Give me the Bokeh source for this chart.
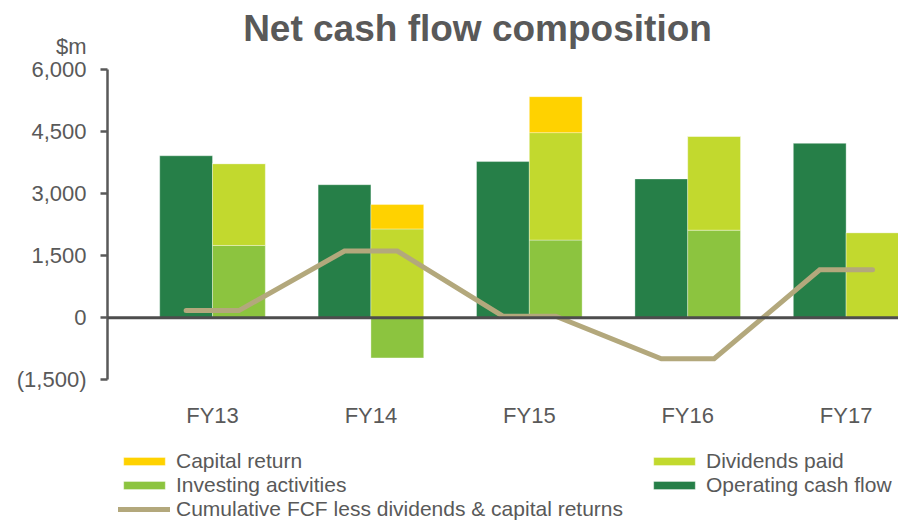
from bokeh.plotting import figure
from bokeh.models import (Range1d, FixedTicker, Span, Legend, LegendItem, Label,
                          LinearAxis)
from bokeh.core.properties import value
from bokeh.embed import file_html
from bokeh.resources import INLINE

# ---- data ----
years = ["FY13", "FY14", "FY15", "FY16", "FY17"]
operating_cash_flow = [3920, 3220, 3780, 3360, 4220]
investing_activities = [1750, -970, 1880, 2120, 0]
dividends_paid = [1980, 2150, 2600, 2270, 2060]
capital_return = [0, 590, 870, 0, 0]
cumulative_fcf = [175, 1615, 40, -990, 1160]

y_tick_values = [-1500, 0, 1500, 3000, 4500, 6000]
y_tick_labels = ["(1,500)", "0", "1,500", "3,000", "4,500", "6,000"]
unit_label = "$m"

# ---- styling ----
C_OP = "#267F48"
C_INV = "#8CC43F"
C_DIV = "#C2D92E"
C_CAP = "#FFD200"
C_LINE = "#B3A87C"
C_TEXT = "#595959"
FONT = "Liberation Sans"

W, H = 898, 521
LEFT = 107
# vertical mapping: 6000 at y=69.3px, -1500 at y=379.3px
px_per_unit = 310.0 / 7500.0
y_top = 6000 + 69.3 / px_per_unit
y_bot = -1500 - (H - 379.3) / px_per_unit
label_y = 6000 - (415 - 69.3) / px_per_unit
unit_y = 6000 + (69.3 - 46) / px_per_unit

n = len(years)
idx = list(range(n))
off = 1.0 / 6.0
bw = 1.0 / 3.0

x_op = [i - off for i in idx]
x_2 = [i + off for i in idx]

inv_bottom = [0 for _ in idx]
inv_top = investing_activities
div_bottom = [max(v, 0) for v in investing_activities]
div_top = [b + d for b, d in zip(div_bottom, dividends_paid)]
cap_bottom = div_top
cap_top = [b + c for b, c in zip(cap_bottom, capital_return)]

line_x = []
line_y = []
for i, v in zip(idx, cumulative_fcf):
    line_x += [i - off, i + off]
    line_y += [v, v]

p = figure(width=W, height=H, output_backend="svg", toolbar_location=None,
           x_range=Range1d(-0.663, -0.663 + (W - LEFT) / 158.4),
           y_range=Range1d(y_bot, y_top),
           min_border_left=LEFT, min_border_right=0, min_border_top=0,
           min_border_bottom=0, background_fill_color="white",
           border_fill_color="white", outline_line_color=None,
           x_axis_location=None, y_axis_location=None)
p.grid.visible = False

bar_line = dict(line_color="white", line_alpha=0.35, line_width=1)
r_op = p.vbar(x=x_op, width=bw, bottom=0, top=operating_cash_flow,
              fill_color=C_OP, **bar_line)
r_inv = p.vbar(x=x_2, width=bw, bottom=inv_bottom, top=inv_top,
               fill_color=C_INV, **bar_line)
r_div = p.vbar(x=x_2, width=bw, bottom=div_bottom, top=div_top,
               fill_color=C_DIV, **bar_line)
r_cap = p.vbar(x=x_2, width=bw, bottom=cap_bottom, top=cap_top,
               fill_color=C_CAP, **bar_line)

p.add_layout(Span(location=0, dimension="width", line_color="#4D4D4D",
                  line_width=3))

r_line = p.line(line_x, line_y, line_color=C_LINE, line_width=5,
                line_cap="round", line_join="miter")

# category labels
p.text(x=idx, y=[label_y] * n, text=years, text_font=value(FONT),
       text_font_size="22px", text_color=C_TEXT, text_align="center",
       text_baseline="middle")

# inner y axis: line and ticks only
ya = LinearAxis(bounds=(-1500, 6000), ticker=FixedTicker(ticks=y_tick_values),
                major_label_overrides={v: "" for v in y_tick_values},
                major_label_standoff=0,
                axis_line_color=C_TEXT, axis_line_width=2.5,
                major_tick_line_color=C_TEXT, major_tick_line_width=2.5,
                major_tick_out=7, major_tick_in=0,
                minor_tick_line_color=None)
p.add_layout(ya, "left")

# outer y axis: tick labels and unit label
lab_ticks = y_tick_values + [unit_y]
lab_text = y_tick_labels + [unit_label]
yb = LinearAxis(ticker=FixedTicker(ticks=lab_ticks),
                major_label_overrides={v: s for v, s in zip(lab_ticks, lab_text)},
                axis_line_color=None, major_tick_line_color=None,
                minor_tick_line_color=None, major_tick_out=0, major_tick_in=0,
                major_label_text_font=FONT, major_label_text_font_size="22px",
                major_label_text_color=C_TEXT, major_label_standoff=14)
p.add_layout(yb, "left")

# title
p.add_layout(Label(x=477 - LEFT, y=H - 28, x_units="screen", y_units="screen",
                   text="Net cash flow composition", text_font=FONT,
                   text_font_size="37px", text_font_style="bold",
                   text_color=C_TEXT, text_align="center",
                   text_baseline="middle"))

leg_common = dict(orientation="vertical", padding=0, margin=0, spacing=0,
                  border_line_color=None, background_fill_alpha=0,
                  glyph_width=52, glyph_height=10, label_height=20,
                  label_standoff=6, label_text_font=FONT,
                  label_text_font_size="21px", label_text_color=C_TEXT)
leg_left = Legend(items=[LegendItem(label="Capital return", renderers=[r_cap]),
                         LegendItem(label="Investing activities", renderers=[r_inv]),
                         LegendItem(label="Cumulative FCF less dividends & capital returns",
                                    renderers=[r_line])],
                  location=(118 - LEFT, 0), **leg_common)
leg_right = Legend(items=[LegendItem(label="Dividends paid", renderers=[r_div]),
                          LegendItem(label="Operating cash flow", renderers=[r_op])],
                   location=(648 - LEFT, 24), **leg_common)
p.add_layout(leg_left)
p.add_layout(leg_right)

open("out.html", "w").write(file_html(p, INLINE))
